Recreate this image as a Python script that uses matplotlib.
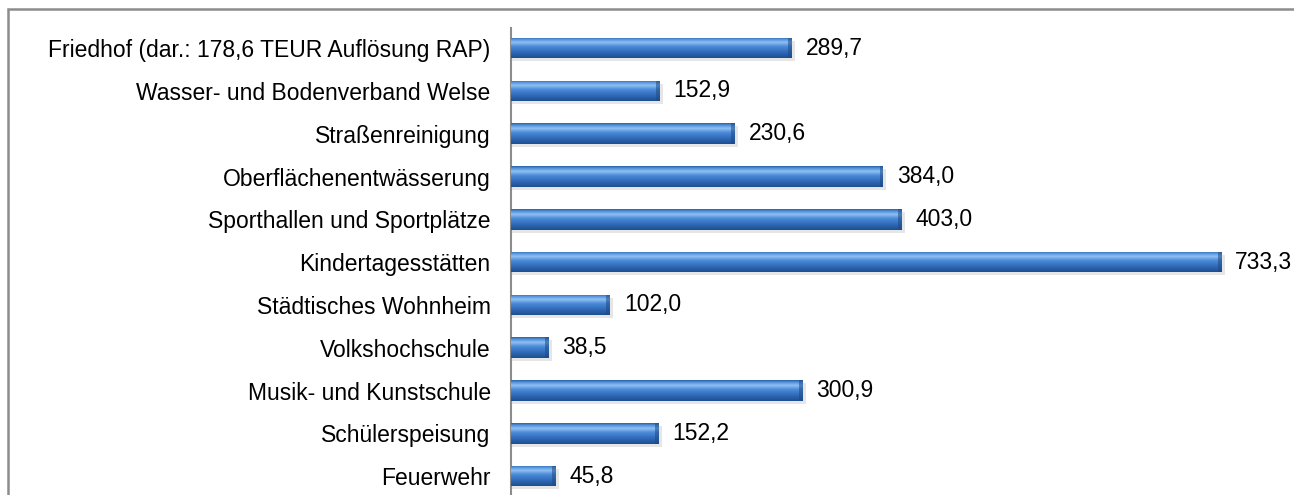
import matplotlib
matplotlib.use("Agg")
import matplotlib.pyplot as plt
import numpy as np
from matplotlib.colors import LinearSegmentedColormap
from matplotlib.patches import Rectangle

plt.rcParams["font.family"] = ["Liberation Sans", "DejaVu Sans"]

# Daten (von unten nach oben)
kategorien = [
    "Feuerwehr",
    "Schülerspeisung",
    "Musik- und Kunstschule",
    "Volkshochschule",
    "Städtisches Wohnheim",
    "Kindertagesstätten",
    "Sporthallen und Sportplätze",
    "Oberflächenentwässerung",
    "Straßenreinigung",
    "Wasser- und Bodenverband Welse",
    "Friedhof (dar.: 178,6 TEUR Auflösung RAP)",
]
werte = [45.8, 152.2, 300.9, 38.5, 102.0, 733.3, 403.0, 384.0, 230.6, 152.9, 289.7]

fig = plt.figure(figsize=(12.94, 4.95), dpi=100)
ax = fig.add_axes([511.5 / 1294, 0, 1 - 511.5 / 1294, (495 - 28) / 495])

# Rahmen um das Diagramm
fig.patches.append(Rectangle((8 / 1294, -0.1), 1.2, 1.1 - 9 / 495,
                             transform=fig.transFigure, fill=False,
                             edgecolor="#8c8c8c", linewidth=1.8, zorder=0))

y = np.arange(len(kategorien))
hoehe = 0.48

# Schatten
ax.barh(y - 0.07, np.array(werte) + 3, height=hoehe, color="#c8c8c8",
        alpha=0.45, linewidth=0, zorder=1)

bars = ax.barh(y, werte, height=hoehe, color="#3a78c8", linewidth=0, zorder=2)

# Farbverlauf fuer 3D-Optik
cmap = LinearSegmentedColormap.from_list(
    "blau", [(0.0, "#1d4f91"), (0.25, "#2f68b5"), (0.55, "#4a8ad8"),
             (0.75, "#8fc0f2"), (0.88, "#5d9ae0"), (1.0, "#2c63ad")])
grad = np.linspace(0, 1, 64).reshape(-1, 1)
for b in bars:
    x0, y0 = b.get_x(), b.get_y()
    w, h = b.get_width(), b.get_height()
    im = ax.imshow(grad, cmap=cmap, aspect="auto", origin="lower",
                   extent=(x0, x0 + w, y0, y0 + h), zorder=3)
    im.set_clip_path(b)
    # dunkles Ende rechts
    ax.barh(y0 + h / 2, min(4, w * 0.1), left=x0 + w - min(4, w * 0.1),
            height=h, color="#1d4a85", alpha=0.55, linewidth=0, zorder=4)

for yi, v in zip(y, werte):
    ax.text(v + 14, yi, f"{v:.1f}".replace(".", ","), va="center",
            ha="left", fontsize=16.5, color="black")

ax.set_yticks(y)
ax.set_yticklabels(kategorien, fontsize=16.5)
ax.tick_params(axis="y", length=0, pad=15)
ax.set_xticks([])
ax.set_xlim(0, (1294 - 512) / 0.968)
ax.set_ylim(-0.44, 10.47)
for s in ["top", "right", "bottom"]:
    ax.spines[s].set_visible(False)
ax.spines["left"].set_color("#8c8c8c")
ax.spines["left"].set_linewidth(1.5)
ax.patch.set_alpha(0)

fig.savefig("out.png", dpi=100)
